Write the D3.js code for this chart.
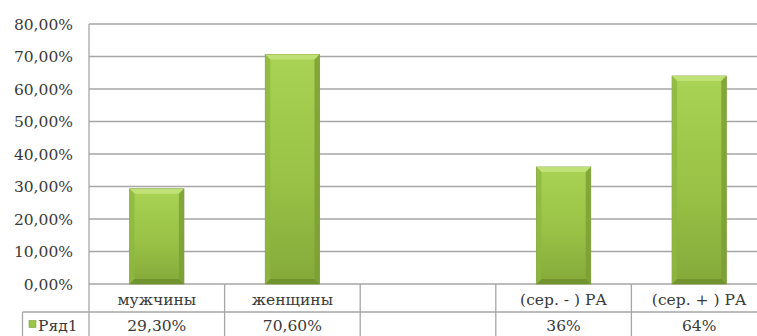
<!DOCTYPE html>
<html>
<head>
<meta charset="utf-8">
<script src="https://cdn.jsdelivr.net/npm/d3@7/dist/d3.min.js"></script>
<style>
  html, body { margin: 0; padding: 0; background: #fff; overflow: hidden; }
  svg { display: block; }
  text { font-family: "DejaVu Serif", "Liberation Serif", serif; fill: #3a3a3a; }
</style>
</head>
<body>
<svg id="chart" width="757" height="336"></svg>
<script>
const categories = ["мужчины", "женщины", "", "(сер. - ) РА", "(сер. + ) РА"];
const values = [29.3, 70.6, null, 36, 64];
const valueLabels = ["29,30%", "70,60%", "", "36%", "64%"];
const yTicks = [0, 10, 20, 30, 40, 50, 60, 70, 80];
const seriesName = "Ряд1";

const svg = d3.select("#chart");
const W = 757, H = 336;
const plotLeft = 89, plotRight = 767, plotTop = 24, plotBottom = 284;
const catRowBottom = 312, tableLeft = 22.5;
const FONT = "'DejaVu Serif', 'Liberation Serif', serif";

const x = d3.scaleBand().domain(categories.map((c, i) => i))
  .range([plotLeft, plotRight]).paddingInner(0.6).paddingOuter(0.3);
const y = d3.scaleLinear().domain([0, 80]).range([plotBottom, plotTop]);

// gradients
const defs = svg.append("defs");
const gv = defs.append("linearGradient").attr("id", "gv").attr("x1", 0).attr("y1", 0).attr("x2", 0).attr("y2", 1);
gv.append("stop").attr("offset", "0%").attr("stop-color", "#a9d354");
gv.append("stop").attr("offset", "55%").attr("stop-color", "#99c246");
gv.append("stop").attr("offset", "100%").attr("stop-color", "#84a93a");

// gridlines
svg.append("g").selectAll("line").data(yTicks).join("line")
  .attr("x1", plotLeft).attr("x2", W)
  .attr("y1", d => y(d)).attr("y2", d => y(d))
  .attr("stroke", "#a6a6a6").attr("stroke-width", 1.3);

// y axis line
svg.append("line").attr("x1", plotLeft).attr("x2", plotLeft)
  .attr("y1", plotTop).attr("y2", plotBottom)
  .attr("stroke", "#a6a6a6").attr("stroke-width", 1.3);

// y axis labels
const fmt = d => d.toFixed(2).replace(".", ",") + "%";
svg.append("g").selectAll("text").data(yTicks).join("text")
  .attr("x", 73).attr("y", d => y(d)).attr("dy", "0.36em")
  .attr("text-anchor", "end")
  .attr("font-family", FONT)
  .style("font-size", "15.5px")
  .text(fmt);

// bars
const bw = x.bandwidth();
const bev = 5;
const bars = svg.append("g").selectAll("g").data(values.map((v, i) => ({v, i})).filter(d => d.v != null)).join("g");
bars.append("rect")
  .attr("x", d => x(d.i)).attr("y", d => y(d.v))
  .attr("width", bw).attr("height", d => plotBottom - y(d.v))
  .attr("fill", "url(#gv)")
  .attr("stroke", "#7f9e3f").attr("stroke-width", 0.8);
bars.append("path")
  .attr("d", d => {
    const x0 = x(d.i), x1 = x0 + bw, t = y(d.v);
    return `M${x0},${t}L${x1},${t}L${x1 - bev},${t + bev}L${x0 + bev},${t + bev}Z`;
  })
  .attr("fill", "#c2e27a").attr("opacity", 0.9);
bars.append("path")
  .attr("d", d => {
    const x0 = x(d.i), t = y(d.v);
    return `M${x0},${t}L${x0 + bev},${t + bev}L${x0 + bev},${plotBottom - bev}L${x0},${plotBottom}Z`;
  })
  .attr("fill", "#8fb83f").attr("opacity", 0.8);
bars.append("path")
  .attr("d", d => {
    const x1 = x(d.i) + bw, t = y(d.v);
    return `M${x1},${t}L${x1 - bev},${t + bev}L${x1 - bev},${plotBottom - bev}L${x1},${plotBottom}Z`;
  })
  .attr("fill", "#7c9f35").attr("opacity", 0.85);
bars.append("path")
  .attr("d", d => {
    const x0 = x(d.i), x1 = x0 + bw;
    return `M${x0},${plotBottom}L${x1},${plotBottom}L${x1 - bev},${plotBottom - bev}L${x0 + bev},${plotBottom - bev}Z`;
  })
  .attr("fill", "#6f9130").attr("opacity", 0.9);

// data table
const step = x.step();
const colEdges = d3.range(categories.length + 1).map(i => plotLeft + i * step);
const tbl = svg.append("g").attr("stroke", "#a6a6a6").attr("stroke-width", 1.3);
tbl.append("line").attr("x1", tableLeft).attr("x2", W).attr("y1", catRowBottom).attr("y2", catRowBottom);
tbl.append("line").attr("x1", tableLeft).attr("x2", tableLeft).attr("y1", catRowBottom).attr("y2", H);
tbl.selectAll("line.v").data(colEdges).join("line").attr("class", "v")
  .attr("x1", d => d).attr("x2", d => d).attr("y1", plotBottom).attr("y2", H);

// category labels
svg.append("g").selectAll("text").data(categories).join("text")
  .attr("x", (d, i) => x(i) + bw / 2).attr("y", 305)
  .attr("text-anchor", "middle")
  .attr("font-family", FONT)
  .style("font-size", "15.5px")
  .text(d => d);

// value labels
svg.append("g").selectAll("text").data(valueLabels).join("text")
  .attr("x", (d, i) => x(i) + bw / 2).attr("y", 331)
  .attr("text-anchor", "middle")
  .attr("font-family", FONT)
  .style("font-size", "15.5px")
  .text(d => d);

// legend key
svg.append("rect").attr("x", 29).attr("y", 320.5).attr("width", 7).attr("height", 7)
  .attr("fill", "#9ac545").attr("stroke", "#7f9e3f").attr("stroke-width", 0.6);
svg.append("text").attr("x", 38).attr("y", 331)
  .attr("font-family", FONT)
  .style("font-size", "15.5px").text(seriesName);
</script>
</body>
</html>
